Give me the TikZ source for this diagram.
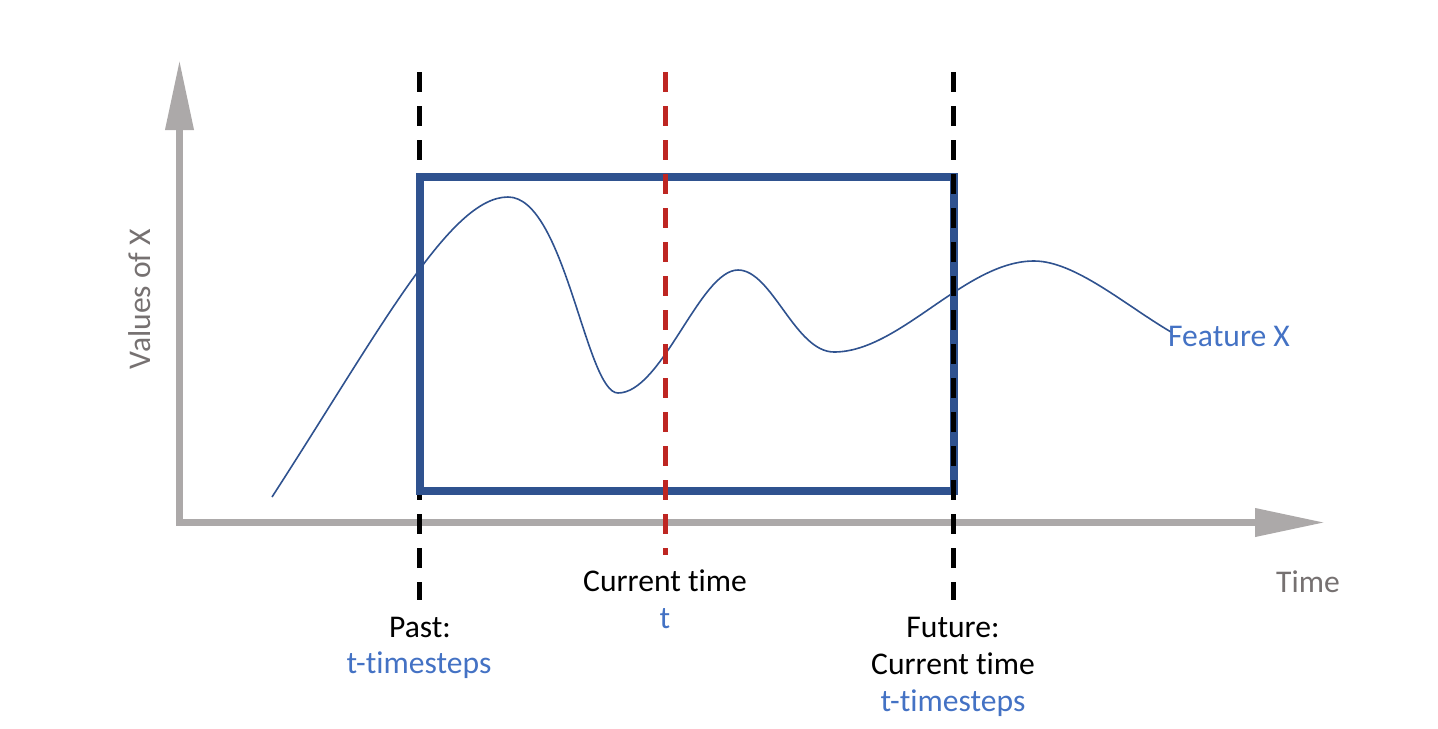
\documentclass[tikz,border=0pt]{standalone}
\usepackage{fontspec}
\setmainfont{Carlito}[Ligatures={NoCommon,NoContextual}]
\usetikzlibrary{arrows.meta}
\definecolor{axisgray}{RGB}{172,169,169}
\definecolor{labelgray}{RGB}{118,113,113}
\definecolor{boxblue}{RGB}{47,82,143}
\definecolor{textblue}{RGB}{68,114,196}
\definecolor{curred}{RGB}{190,38,34}
\tikzset{
  axisline/.style={draw=axisgray, line width=3.5pt, -{Triangle[length=35pt,width=13.5pt]}},
  blackdash/.style={draw=black, line width=2.5pt, dash pattern=on 10pt off 7pt},
  reddash/.style={draw=curred, line width=2.5pt, dash pattern=on 10pt off 7pt},
  windowbox/.style={draw=boxblue, line width=4pt},
  featurecurve/.style={draw=boxblue, line width=0.8pt},
  lbl/.style={inner sep=0pt, anchor=base, font=\fontsize{15.8}{18}\selectfont},
  blacklbl/.style={lbl, text=black},
  bluelbl/.style={lbl, text=textblue},
  graylbl/.style={lbl, text=labelgray}
}
\begin{document}
\begin{tikzpicture}[x=0.5pt, y=-0.5pt]
\useasboundingbox (0,0) rectangle (1438,728);
% axis coordinates
\coordinate (yaxisbottom) at (179.5,525);
\coordinate (yaxistop) at (179.5,60);
\coordinate (xaxisleft) at (176,522.5);
\coordinate (xaxisright) at (1325,522.5);
% axes
\draw[axisline] (yaxisbottom) -- (yaxistop);
\draw[axisline] (xaxisleft) -- (xaxisright);
% left dashed line (under box)
\coordinate (pasttop) at (419,72);
\coordinate (pastbot) at (419,600);
\draw[blackdash] (pasttop) -- (pastbot);
% feature curve
\coordinate (cs) at (272,497);
\coordinate (cp1) at (508,197);
\coordinate (ct1) at (618,393);
\coordinate (cp2) at (738,270);
\coordinate (ct2) at (834,352);
\coordinate (cp3) at (1034,261);
\coordinate (ce) at (1171,332);
\draw[featurecurve] (cs)
  .. controls (380,330) and (450,197) .. (cp1)
  .. controls (565,197) and (586,393) .. (ct1)
  .. controls (662,393) and (700,270) .. (cp2)
  .. controls (772,270) and (795,352) .. (ct2)
  .. controls (900,352) and (965,261) .. (cp3)
  .. controls (1075,261) and (1125,305) .. (ce);
% window box
\coordinate (boxtl) at (420,177);
\coordinate (boxbr) at (954,490.5);
\draw[windowbox] (boxtl) rectangle (boxbr);
% current time red line
\coordinate (curtop) at (665,72);
\coordinate (curbot) at (665,555);
\draw[reddash] (curtop) -- (curbot);
% future dashed line (over box)
\coordinate (futtop) at (953,72);
\coordinate (futbot) at (953,600);
\draw[blackdash] (futtop) -- (futbot);
% labels
\node[graylbl, anchor=center, rotate=90] (yl) at (140,299) {Values of X};
\node[graylbl] (tl) at (1308,592) {Time};
\node[bluelbl] (fx) at (1229,346) {Feature X};
\node[blacklbl] (ct1l) at (665,591) {Current time};
\node[bluelbl] (ct2l) at (665,628) {t};
\node[blacklbl] (p1) at (420,637) {Past:};
\node[bluelbl] (p2) at (419,673) {t-timesteps};
\node[blacklbl] (f1) at (953,637) {Future:};
\node[blacklbl] (f2) at (953,674) {Current time};
\node[bluelbl] (f3) at (953,711) {t-timesteps};
\end{tikzpicture}
\end{document}
